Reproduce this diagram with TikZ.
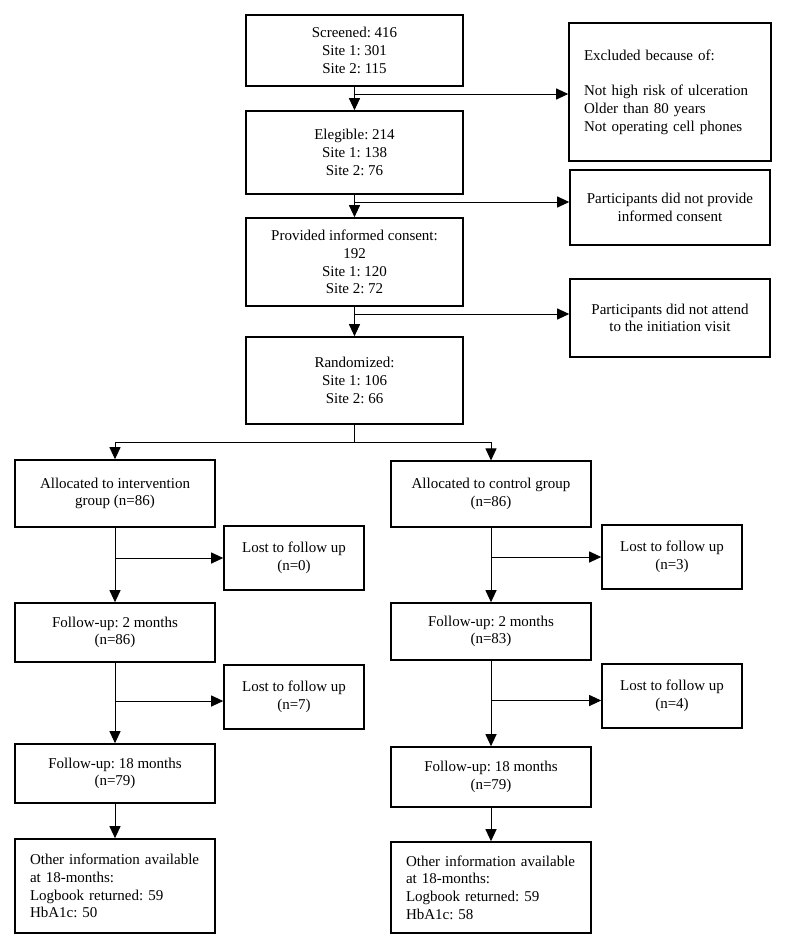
\documentclass[tikz,border=0pt]{standalone}
\usepackage{fontspec}
\setmainfont{Liberation Serif}
\usetikzlibrary{arrows.meta}
\frenchspacing
\begin{document}
\frenchspacing
\begin{tikzpicture}[x=1pt,y=-1pt,
 box/.style={draw, line width=1.6pt, inner sep=0pt, align=center, font=\fontsize{15}{17.7}\selectfont\frenchspacing},
 lbox/.style={box, align=left, inner xsep=15pt, text width=#1},
 conn/.style={line width=1pt},
 arr/.style={conn, -{Triangle[length=12pt,width=11pt]}}]
\useasboundingbox (0,0) rectangle (786,948);
% main column
\node[box, minimum width=217pt, minimum height=71pt] (scr) at (354.5,50.5) {Screened: 416\\Site 1: 301\\Site 2: 115};
\node[box, minimum width=217pt, minimum height=83pt] (eleg) at (354.5,152.5) {Elegible: 214\\Site 1: 138\\Site 2: 76};
\node[box, minimum width=217pt, minimum height=88pt] (prov) at (354.5,262) {Provided informed consent:\\192\\Site 1: 120\\Site 2: 72};
\node[box, minimum width=217pt, minimum height=87pt] (rand) at (354.5,380.5) {Randomized:\\Site 1: 106\\Site 2: 66};
% exclusion boxes
\node[lbox=172pt, minimum width=202pt, minimum height=138pt] (excl) at (670,92) {Excluded because of:\\[17.7pt]Not high risk of ulceration\\Older than 80 years\\Not operating cell phones};
\node[box, minimum width=200pt, minimum height=75pt] (cons) at (670,207.5) {Participants did not provide\\informed consent};
\node[box, minimum width=200pt, minimum height=78pt] (att) at (670,318) {Participants did not attend\\to the initiation visit};
% left column
\node[box, minimum width=200pt, minimum height=67pt] (int) at (115,493.5) {Allocated to intervention\\group (n=86)};
\node[box, minimum width=140pt, minimum height=64pt] (lost0) at (294,558) {Lost to follow up\\(n=0)};
\node[box, minimum width=200pt, minimum height=59pt] (fu2L) at (115,632.5) {Follow-up: 2 months\\(n=86)};
\node[box, minimum width=140pt, minimum height=64pt] (lost7) at (294,697) {Lost to follow up\\(n=7)};
\node[box, minimum width=200pt, minimum height=59pt] (fu18L) at (115,773.5) {Follow-up: 18 months\\(n=79)};
\node[lbox=170pt, minimum width=200pt, minimum height=94pt] (othL) at (115,886) {Other information available\\at 18-months:\\Logbook returned: 59\\HbA1c: 50};
% right column
\node[box, minimum width=200pt, minimum height=65.5pt] (ctl) at (491,494) {Allocated to control group\\(n=86)};
\node[box, minimum width=140pt, minimum height=64pt] (lost3) at (672,557) {Lost to follow up\\(n=3)};
\node[box, minimum width=200pt, minimum height=57pt] (fu2R) at (491,631.5) {Follow-up: 2 months\\(n=83)};
\node[box, minimum width=140pt, minimum height=64pt] (lost4) at (672,696) {Lost to follow up\\(n=4)};
\node[box, minimum width=200pt, minimum height=60pt] (fu18R) at (491,777) {Follow-up: 18 months\\(n=79)};
\node[lbox=170pt, minimum width=200pt, minimum height=91pt] (othR) at (491,887.5) {Other information available\\at 18-months:\\Logbook returned: 59\\HbA1c: 58};
% branch points
\coordinate (b1) at (354.5,94);
\coordinate (b2) at (354.5,202);
\coordinate (b3) at (354.5,314);
\coordinate (sp) at (354.5,442);
\coordinate (bl1) at (115,558);
\coordinate (bl2) at (115,701);
\coordinate (br1) at (491,557);
\coordinate (br2) at (491,700.5);
% main connectors
\draw[arr] (scr.south) -- (eleg.north);
\draw[arr] (eleg.south) -- (prov.north);
\draw[arr] (prov.south) -- (rand.north);
\draw[arr] (b1) -- (b1 -| excl.west);
\draw[arr] (b2) -- (b2 -| cons.west);
\draw[arr] (b3) -- (b3 -| att.west);
\draw[conn] (rand.south) -- (sp);
\draw[arr] (sp) -| (int.north);
\draw[arr] (sp) -| (ctl.north);
% left connectors
\draw[arr] (int.south) -- (fu2L.north);
\draw[arr] (bl1) -- (bl1 -| lost0.west);
\draw[arr] (fu2L.south) -- (fu18L.north);
\draw[arr] (bl2) -- (bl2 -| lost7.west);
\draw[arr] (fu18L.south) -- (othL.north);
% right connectors
\draw[arr] (ctl.south) -- (fu2R.north);
\draw[arr] (br1) -- (br1 -| lost3.west);
\draw[arr] (fu2R.south) -- (fu18R.north);
\draw[arr] (br2) -- (br2 -| lost4.west);
\draw[arr] (fu18R.south) -- (othR.north);
\end{tikzpicture}
\end{document}
